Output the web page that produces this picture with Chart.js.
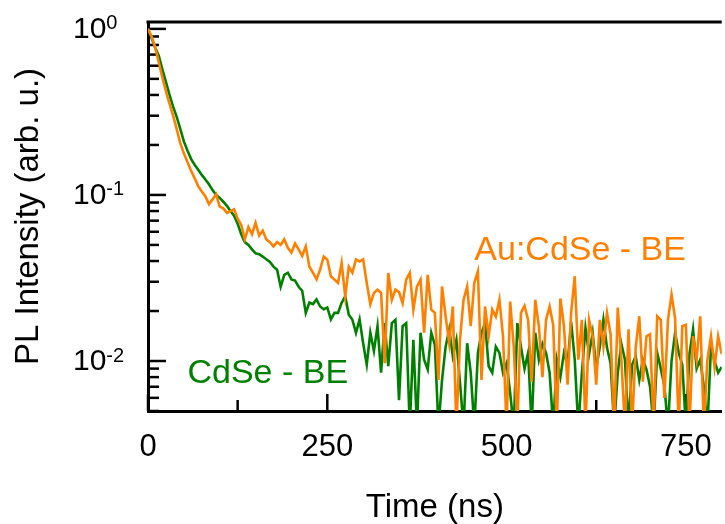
<!DOCTYPE html>
<html>
<head>
<meta charset="utf-8">
<script src="https://cdn.jsdelivr.net/npm/chart.js@4"></script>
<style>
html,body{margin:0;padding:0;background:#fff;overflow:hidden}
</style>
</head>
<body>
<canvas id="plChart" width="730" height="524"></canvas>
<script>
// time axis: one value every 5 ns, from 0 to 800 ns
var timeStep = 5;

// CdSe - BE (green), normalised PL intensity
var cdseBE = [
  1.0, 0.88, 0.77, 0.69, 0.57, 0.48, 0.40, 0.34, 0.295, 0.25,
  0.21, 0.185, 0.165, 0.152, 0.142, 0.132, 0.124, 0.116, 0.107, 0.100,
  0.096, 0.091, 0.086, 0.080, 0.075, 0.067, 0.058, 0.052, 0.050, 0.047,
  0.0445, 0.044, 0.0425, 0.041, 0.0395, 0.037, 0.0355, 0.028, 0.033, 0.034,
  0.031, 0.0305, 0.028, 0.0265, 0.0195, 0.0225, 0.022, 0.0235, 0.0213, 0.0205,
  0.021, 0.0178, 0.0195, 0.0195, 0.0224, 0.0245, 0.019, 0.0177, 0.0148, 0.0178,
  0.0128, 0.0095, 0.0148, 0.0115, 0.0162, 0.0085, 0.0169, 0.0093, 0.0169, 0.0177,
  0.0058, 0.0162, 0.0169, 0.004, 0.0134, 0.004, 0.0148, 0.0102, 0.0089, 0.0148,
  0.0125, 0.004, 0.0077, 0.0122, 0.0155, 0.0107, 0.0134, 0.0074, 0.004, 0.0128,
  0.0085, 0.004, 0.0112, 0.0148, 0.0169, 0.0093, 0.0085, 0.0122, 0.0112, 0.0085,
  0.0097, 0.0064, 0.004, 0.0169, 0.0122, 0.0090, 0.0112, 0.004, 0.0148, 0.0102,
  0.0127, 0.0112, 0.0085, 0.004, 0.0102, 0.0080, 0.0112, 0.0095, 0.0172, 0.0102,
  0.004, 0.0085, 0.0158, 0.0110, 0.0148, 0.0090, 0.0122, 0.0177, 0.0120, 0.0097,
  0.004, 0.0085, 0.0127, 0.0102, 0.004, 0.0095, 0.0107, 0.0077, 0.0102, 0.0089,
  0.0070, 0.004, 0.0112, 0.0090, 0.0071, 0.004, 0.0100, 0.0148, 0.0112, 0.0095,
  0.004, 0.0110, 0.0155, 0.0090, 0.0102, 0.0070, 0.004, 0.0122, 0.0100, 0.0085,
  0.0092
];

// Au:CdSe - BE (orange)
var auCdseBE = [
  1.0, 0.90, 0.77, 0.63, 0.51, 0.42, 0.355, 0.30, 0.25, 0.205,
  0.178, 0.158, 0.140, 0.126, 0.113, 0.105, 0.098, 0.088, 0.094, 0.101,
  0.085, 0.083, 0.078, 0.080, 0.082, 0.072, 0.066, 0.054, 0.064, 0.058,
  0.068, 0.057, 0.061, 0.054, 0.052, 0.049, 0.052, 0.050, 0.054, 0.048,
  0.045, 0.051, 0.047, 0.043, 0.049, 0.037, 0.034, 0.031, 0.0355, 0.0426,
  0.0408, 0.0324, 0.0309, 0.0295, 0.039, 0.0245, 0.037, 0.034, 0.0409, 0.0398,
  0.041, 0.0295, 0.022, 0.0257, 0.0269, 0.0257, 0.0097, 0.0339, 0.0234, 0.0269,
  0.026, 0.0223, 0.0309, 0.0339, 0.0204, 0.028, 0.0309, 0.0148, 0.033, 0.0204,
  0.0195, 0.0077, 0.0281, 0.0186, 0.0128, 0.0213, 0.004, 0.0134, 0.0234, 0.0281,
  0.0162, 0.0295, 0.0347, 0.0077, 0.0213, 0.0141, 0.0204, 0.0185, 0.0234, 0.0141,
  0.004, 0.0228, 0.0122, 0.004, 0.0195, 0.0215, 0.0177, 0.0075, 0.0234, 0.0162,
  0.0080, 0.0177, 0.0213, 0.0165, 0.004, 0.0238, 0.0162, 0.0072, 0.0195, 0.0324,
  0.0102, 0.0177, 0.004, 0.0177, 0.0141, 0.0072, 0.0177, 0.0122, 0.0195, 0.0145,
  0.004, 0.021, 0.0102, 0.004, 0.0155, 0.004, 0.0120, 0.0186, 0.0075, 0.0141,
  0.0145, 0.004, 0.0186, 0.0177, 0.006, 0.0177, 0.0251, 0.0180, 0.004, 0.0162,
  0.0165, 0.004, 0.0141, 0.0102, 0.0186, 0.004, 0.0102, 0.0141, 0.0092, 0.0141,
  0.0110
];

var xMajorTicks = [0, 250, 500, 750];
var xMinorTicks = [125, 375, 625];
var yMajorTicks = [1, 0.1, 0.01];
var yTickExponents = ['0', '-1', '-2'];

var fam = '"Liberation Sans", Arial, sans-serif';
var green = '#008000';
var orange = '#FF8000';

function toPoints(values){
  var pts = [];
  for (var i = 0; i < values.length; i++) {
    pts.push({x: i * timeStep, y: values[i]});
  }
  return pts;
}

// inward ticks, top frame line, labels
var frameDecor = {
  id: 'frameDecor',
  beforeDatasetsDraw: function(chart){
    var ctx = chart.ctx, a = chart.chartArea;
    var xs = chart.scales.x, ys = chart.scales.y;
    ctx.save();
    ctx.strokeStyle = '#000';
    ctx.lineWidth = 3;
    ctx.beginPath();
    ctx.moveTo(a.left - 1.5, a.top);
    ctx.lineTo(a.right, a.top);
    ctx.stroke();

    ctx.lineWidth = 2.5;
    xMajorTicks.concat(xMinorTicks).forEach(function(v){
      var len = xMajorTicks.indexOf(v) >= 0 ? 17 : 11;
      var px = xs.getPixelForValue(v);
      ctx.beginPath();
      ctx.moveTo(px, a.bottom);
      ctx.lineTo(px, a.bottom - len);
      ctx.stroke();
    });

    for (var e = 0; e >= -3; e--) {
      for (var k = 1; k <= 9; k++) {
        var v = k * Math.pow(10, e);
        if (v < ys.min || v > ys.max) continue;
        var len = (k === 1) ? 18 : 11;
        var py = ys.getPixelForValue(v);
        ctx.beginPath();
        ctx.moveTo(a.left, py);
        ctx.lineTo(a.left + len, py);
        ctx.stroke();
      }
    }
    ctx.restore();
  },
  afterDatasetsDraw: function(chart){
    var ctx = chart.ctx;
    var xs = chart.scales.x, ys = chart.scales.y;
    ctx.save();
    ctx.textBaseline = 'alphabetic';
    ctx.textAlign = 'left';
    ctx.font = '34px ' + fam;
    ctx.fillStyle = orange;
    ctx.fillText('Au:CdSe - BE', xs.getPixelForValue(455), ys.getPixelForValue(0.0408));
    ctx.fillStyle = green;
    ctx.fillText('CdSe - BE', xs.getPixelForValue(55), ys.getPixelForValue(0.0074));

    // y tick labels 10^n
    ctx.fillStyle = '#000';
    ctx.textBaseline = 'middle';
    yMajorTicks.forEach(function(v, i){
      var py = ys.getPixelForValue(v);
      ctx.font = '30px ' + fam;
      ctx.fillText('10', 73, py + 1);
      var w = ctx.measureText('10').width;
      ctx.font = '20px ' + fam;
      ctx.fillText(yTickExponents[i], 73 + w, py - 5);
    });
    ctx.restore();
  }
};

var ctx = document.getElementById('plChart');
var chart = new Chart(ctx, {
  type: 'line',
  data: {
    datasets: [
      {
        label: 'CdSe - BE',
        data: toPoints(cdseBE),
        borderColor: green,
        borderWidth: 2.6,
        pointRadius: 0,
        tension: 0,
        order: 2
      },
      {
        label: 'Au:CdSe - BE',
        data: toPoints(auCdseBE),
        borderColor: orange,
        borderWidth: 2.6,
        pointRadius: 0,
        tension: 0,
        order: 1
      }
    ]
  },
  options: {
    responsive: false,
    animation: false,
    layout: {padding: {top: 22, right: 4, left: 0, bottom: 0}},
    plugins: {legend: {display: false}, tooltip: {enabled: false}},
    scales: {
      x: {
        type: 'linear',
        min: 0,
        max: 800,
        afterFit: function(s){ s.height = 113; },
        afterBuildTicks: function(s){
          s.ticks = xMajorTicks.map(function(v){ return {value: v}; });
        },
        ticks: {color: '#000', font: {family: fam, size: 31}, padding: 18, maxRotation: 0},
        grid: {display: false, drawTicks: false},
        border: {display: true, color: '#000', width: 3},
        title: {display: true, text: 'Time (ns)', color: '#000',
                font: {family: fam, size: 33, lineHeight: 1}, padding: {top: 0, bottom: 0}}
      },
      y: {
        type: 'logarithmic',
        min: 0.005,
        max: 1.1,
        afterFit: function(s){ s.width = 148; },
        ticks: {display: false},
        grid: {display: false, drawTicks: false},
        border: {display: true, color: '#000', width: 3},
        title: {display: true, text: 'PL Intensity (arb. u.)', color: '#000',
                font: {family: fam, size: 33, lineHeight: 1}, padding: {top: 12, bottom: 0}}
      }
    }
  },
  plugins: [frameDecor]
});
</script>
</body>
</html>
